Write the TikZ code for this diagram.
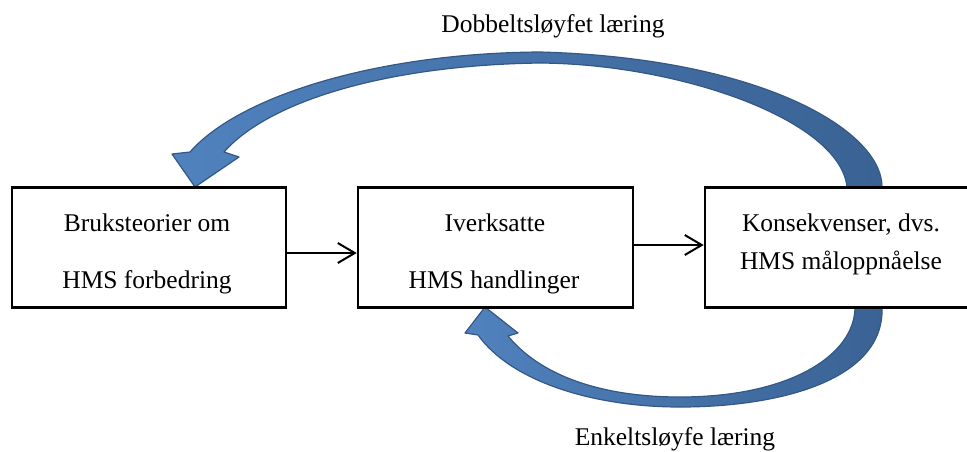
\documentclass[tikz,border=0pt]{standalone}
\usepackage{fontspec}
\setmainfont{Liberation Serif}
\usetikzlibrary{arrows.meta}
\definecolor{loopLight}{RGB}{80,130,190}
\definecolor{loopDark}{RGB}{58,98,148}
\definecolor{loopEdge}{RGB}{52,88,132}
\tikzset{
  x=1pt, y=-1pt,
  stagebox/.style={draw=black, line width=2.5pt, rectangle, minimum height=120pt, inner sep=0pt},
  lbl/.style={font=\fontsize{25.5}{30}\selectfont, anchor=base, inner sep=0pt},
  conn/.style={line width=2pt, -{Straight Barb[length=17pt,width=20pt,line width=2pt]}},
  loop/.style={draw=loopEdge, line width=1.2pt, left color=loopLight, right color=loopDark, line join=round}
}
\begin{document}
\begin{tikzpicture}
\useasboundingbox (0,0) rectangle (967,451);

% double loop: from the consequences box back to the theories-in-use box
\path[loop]
  (882,187) .. controls (882,130) and (760,58) .. (540,52)
  .. controls (380,53) and (240,95) .. (190,152)
  -- (172,154) -- (195,187) -- (239,157) -- (224,152)
  .. controls (270,100) and (390,65) .. (540,63)
  .. controls (680,64) and (840,120) .. (847,187) -- cycle;

% single loop: from the consequences box back to the actions box
\path[loop]
  (882,307) .. controls (885,380) and (780,407) .. (680,407)
  .. controls (590,407) and (510,380) .. (478,335)
  -- (465,333) -- (485,307) -- (518,333) -- (508,336)
  .. controls (540,375) and (600,397) .. (680,397)
  .. controls (790,397) and (855,355) .. (855,307) -- cycle;

% stages
\node[stagebox, minimum width=274pt] (theory) at (149,247.5) {};
\node[stagebox, minimum width=275pt] (action) at (495.5,247.5) {};
\node[stagebox, minimum width=272pt] (result) at (841,247.5) {};

\node[lbl] (theoryA) at (147,231) {Bruksteorier om};
\node[lbl] (theoryB) at (147,288) {HMS forbedring};
\node[lbl] (actionA) at (495,231) {Iverksatte};
\node[lbl] (actionB) at (494,288) {HMS handlinger};
\node[lbl] (resultA) at (841,231) {Konsekvenser, dvs.};
\node[lbl] (resultB) at (841,269) {HMS måloppnåelse};

% loop labels
\node[lbl] (double) at (553,32) {Dobbeltsløyfet læring};
\node[lbl] (single) at (675,445) {Enkeltsløyfe læring};

% forward flow
\draw[conn] ([yshift=-5.5pt]theory.east) -- ([yshift=-5.5pt]action.west);
\draw[conn] ([yshift=2.5pt]action.east) -- ([yshift=2.5pt]result.west);
\end{tikzpicture}
\end{document}
